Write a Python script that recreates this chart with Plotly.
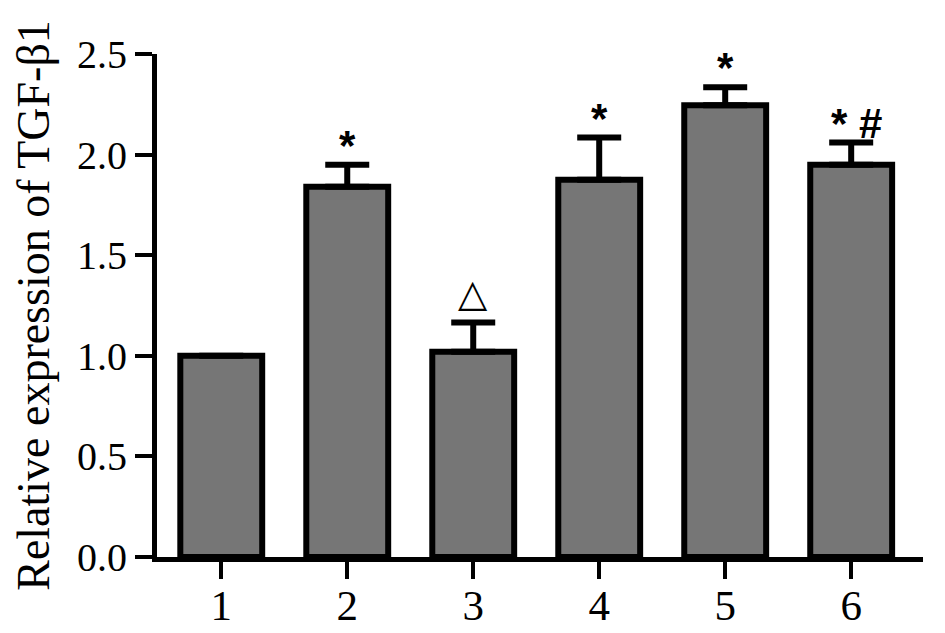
import plotly.graph_objects as go

groups = ["1", "2", "3", "4", "5", "6"]
means = [1.0, 1.84, 1.02, 1.875, 2.245, 1.95]
errors = [0.0, 0.11, 0.145, 0.21, 0.09, 0.11]
marks = ["", "*", "△", "*", "*", "* #"]
y_ticks = [0.0, 0.5, 1.0, 1.5, 2.0, 2.5]
y_title = "Relative expression of TGF-β1"

xpos = list(range(1, len(groups) + 1))

fig = go.Figure()
fig.add_trace(go.Bar(
    x=xpos, y=means, width=0.65,
    marker=dict(color="#767676", line=dict(color="black", width=6)),
    error_y=dict(type="data", symmetric=False, array=errors,
                 arrayminus=[0] * len(errors), color="black",
                 thickness=6, width=22, visible=True),
))

for xi, m, e, t in zip(xpos, means, errors, marks):
    if not t:
        continue
    is_tri = t == "△"
    fig.add_annotation(
        x=xi + (0.04 if t == "* #" else 0), y=m + e, xref="x", yref="y",
        text=t if is_tri else f"<b>{t}</b>", showarrow=False, yanchor="bottom",
        yshift=6 if is_tri else -6,
        font=dict(family="DejaVu Sans" if is_tri else "Liberation Sans",
                  size=38 if is_tri else 42, color="black"),
    )

# page body has an 8px default margin, so the figure is sized/offset to compensate
fig.update_layout(
    width=937, height=625,
    margin=dict(l=149, r=22, t=46, b=76),
    plot_bgcolor="white", paper_bgcolor="white",
    showlegend=False,
    font=dict(family="Liberation Serif", color="black"),
    xaxis=dict(
        range=[0.49, 6.57], tickmode="array", tickvals=xpos, ticktext=groups,
        showline=True, linecolor="black", linewidth=5, automargin=False,
        ticks="outside", ticklen=17, tickwidth=4, tickcolor="black",
        tickfont=dict(family="Liberation Serif", size=43),
        ticklabelstandoff=-11,
        showgrid=False, zeroline=False,
    ),
    yaxis=dict(
        range=[0, 2.5], tickmode="array", tickvals=y_ticks,
        ticktext=[f"{v:.1f}" for v in y_ticks], automargin=False,
        showline=True, linecolor="black", linewidth=5,
        ticks="outside", ticklen=17, tickwidth=4, tickcolor="black",
        tickfont=dict(family="Liberation Serif", size=40),
        title=dict(text=y_title, font=dict(family="Liberation Serif", size=46), standoff=27),
        showgrid=False, zeroline=False,
    ),
)

fig.write_html("out.html")
